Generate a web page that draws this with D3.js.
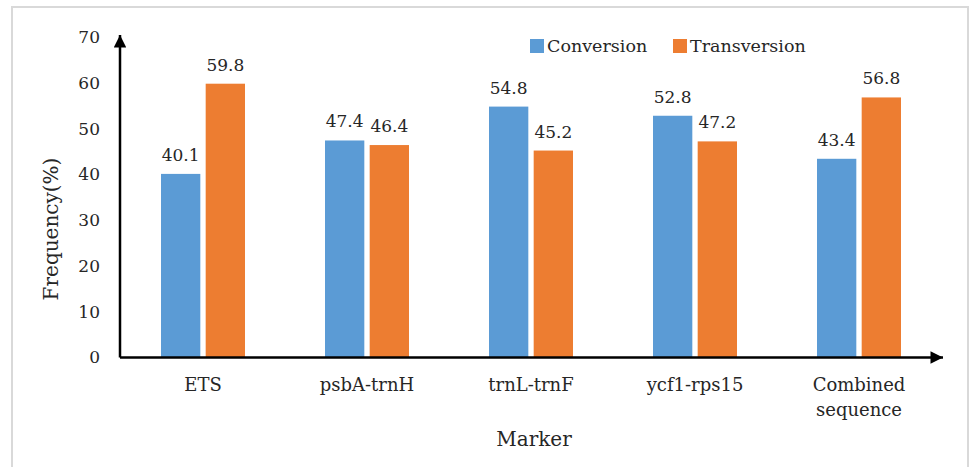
<!DOCTYPE html>
<html>
<head>
<meta charset="utf-8">
<script src="https://cdn.jsdelivr.net/npm/d3@7/dist/d3.min.js"></script>
<style>
  html, body { margin: 0; padding: 0; background: #fff; }
  svg { display: block; }
</style>
</head>
<body>
<svg id="chart" width="969" height="467"></svg>
<script>
// Substitution frequencies per marker
const markers = ["ETS", "psbA-trnH", "trnL-trnF", "ycf1-rps15", "Combined sequence"];
const seriesNames = ["Conversion", "Transversion"];
const conversion = [40.1, 47.4, 54.8, 52.8, 43.4];
const transversion = [59.8, 46.4, 45.2, 47.2, 56.8];
const yTicks = [0, 10, 20, 30, 40, 50, 60, 70];
const colors = ["#5B9BD5", "#ED7D31"];

const FONT = "'DejaVu Serif', serif";
const INK = "#262626";

const svg = d3.select("#chart");
const W = 969, H = 467;

// outer frame
svg.append("rect")
  .attr("x", 12).attr("y", 7).attr("width", W - 13).attr("height", H - 6)
  .attr("fill", "none").attr("stroke", "#d9d9d9").attr("stroke-width", 2);

const x0 = 121, x1 = 941;
const yBase = 357.5, yTop = 37;

const x = d3.scaleBand().domain(markers).range([x0, x1]).paddingInner(0).paddingOuter(0);
const y = d3.scaleLinear().domain([0, 70]).range([yBase, yTop]);
const xSub = d3.scaleBand().domain(seriesNames).range([0, 84]).paddingInner(0.12);

const rows = markers.map((m, i) => ({ marker: m, values: [conversion[i], transversion[i]] }));

function styleText(sel, size) {
  return sel.attr("font-family", FONT).style("font-family", FONT)
    .style("font-size", size + "px").style("fill", INK);
}

// bars
const groups = svg.append("g").selectAll("g").data(rows).join("g")
  .attr("transform", d => `translate(${x(d.marker) + x.bandwidth() / 2 - 42},0)`);

groups.selectAll("rect").data(d => d.values.map((v, k) => ({ v, k })))
  .join("rect")
  .attr("x", d => xSub(seriesNames[d.k]))
  .attr("width", xSub.bandwidth())
  .attr("y", d => y(d.v))
  .attr("height", d => y(0) - y(d.v))
  .attr("fill", d => colors[d.k]);

// value labels
groups.selectAll("text").data(d => d.values.map((v, k) => ({ v, k })))
  .join("text")
  .attr("x", d => xSub(seriesNames[d.k]) + xSub.bandwidth() / 2)
  .attr("y", d => y(d.v) - 13)
  .attr("text-anchor", "middle")
  .text(d => d.v.toFixed(1))
  .call(styleText, 17);

// y axis tick labels (no tick marks)
const yAxis = d3.axisLeft(y).tickValues(yTicks).tickSize(0).tickPadding(20);
const gy = svg.append("g").attr("transform", `translate(${x0 - 1},0)`).call(yAxis);
gy.select(".domain").remove();
gy.selectAll("text").call(styleText, 17);

// x axis category labels
const xAxis = d3.axisBottom(x).tickSize(0).tickPadding(0);
const gx = svg.append("g").attr("transform", `translate(0,${yBase})`).call(xAxis);
gx.select(".domain").remove();
gx.selectAll("text").remove();
gx.selectAll(".tick").each(function(d) {
  const t = d3.select(this).append("text")
    .attr("text-anchor", "middle")
    .call(styleText, 18);
  const lines = d === "Combined sequence" ? ["Combined", "sequence"] : [d];
  lines.forEach((ln, i) => {
    t.append("tspan").attr("x", 0).attr("y", 33 + i * 25).text(ln);
  });
});

// axis lines with arrow heads
const defs = svg.append("defs");
defs.append("marker")
  .attr("id", "arrow")
  .attr("viewBox", "0 0 10 10")
  .attr("refX", 10).attr("refY", 5)
  .attr("markerWidth", 6).attr("markerHeight", 5)
  .attr("markerUnits", "strokeWidth")
  .attr("orient", "auto")
  .append("path").attr("d", "M0,0 L10,5 L0,10 Z").attr("fill", "#000");

svg.append("line")
  .attr("x1", x0 - 1).attr("y1", yBase).attr("x2", 943).attr("y2", yBase)
  .attr("stroke", "#000").attr("stroke-width", 2.5)
  .attr("marker-end", "url(#arrow)");
svg.append("line")
  .attr("x1", x0 - 1).attr("y1", yBase).attr("x2", x0 - 1).attr("y2", 35)
  .attr("stroke", "#000").attr("stroke-width", 2.5)
  .attr("marker-end", "url(#arrow)");

// axis titles
svg.append("text")
  .attr("transform", "translate(58,229) rotate(-90)")
  .attr("text-anchor", "middle")
  .text("Frequency(%)")
  .call(styleText, 20);
svg.append("text")
  .attr("x", 534).attr("y", 446)
  .attr("text-anchor", "middle")
  .text("Marker")
  .call(styleText, 20);

// legend
const legend = svg.append("g");
const legendX = [530, 673];
seriesNames.forEach((name, i) => {
  legend.append("rect")
    .attr("x", legendX[i]).attr("y", 39).attr("width", 14).attr("height", 14)
    .attr("fill", colors[i]);
  legend.append("text")
    .attr("x", legendX[i] + 17).attr("y", 52)
    .text(name)
    .call(styleText, 17.5);
});
</script>
</body>
</html>
